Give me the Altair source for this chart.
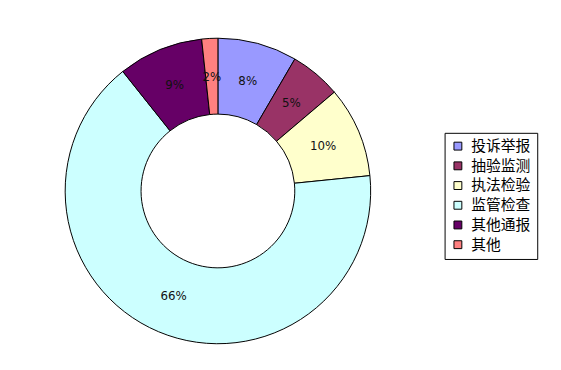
import altair as alt
import pandas as pd

categories = ["投诉举报", "抽验监测", "执法检验", "监管检查", "其他通报", "其他"]
values = [8.4, 5.4, 9.6, 65.9, 9.0, 1.7]
labels = ["8%", "5%", "10%", "66%", "9%", "2%"]
colors = ["#9999FF", "#993366", "#FFFFCC", "#CCFFFF", "#660066", "#FF8080"]

df = pd.DataFrame({
    "cat": categories,
    "value": values,
    "label": labels,
    "order": list(range(len(categories))),
})

cx, cy = 213, 183

base = alt.Chart(df).encode(
    theta=alt.Theta("value:Q", stack=True),
    order=alt.Order("order:Q"),
    x=alt.value(cx),
    y=alt.value(cy),
)

arcs = base.mark_arc(outerRadius=155, innerRadius=78, stroke="black", strokeWidth=1).encode(
    color=alt.Color(
        "cat:N",
        scale=alt.Scale(domain=categories, range=colors),
        sort=categories,
        legend=alt.Legend(
            title=None,
            orient="none",
            legendX=443,
            legendY=124,
            symbolType="square",
            symbolSize=64,
            symbolStrokeColor="black",
            symbolStrokeWidth=1,
            symbolOpacity=1,
            labelFont="Noto Sans CJK SC",
            labelFontSize=15,
            labelColor="black",
            labelOffset=6,
            labelLimit=200,
            rowPadding=4,
            padding=6,
            strokeColor="black",
            fillColor="white",
        ),
    )
)

texts = base.mark_text(radius=116, fontSize=12, font="DejaVu Sans", color="#111111").encode(
    text="label:N"
)

chart = (
    alt.layer(arcs, texts)
    .properties(width=553, height=362, autosize=alt.AutoSizeParams(type="none"), padding=0)
    .configure_view(stroke=None)
)

chart.save("out.html", embed_options={"renderer": "svg", "actions": False})
